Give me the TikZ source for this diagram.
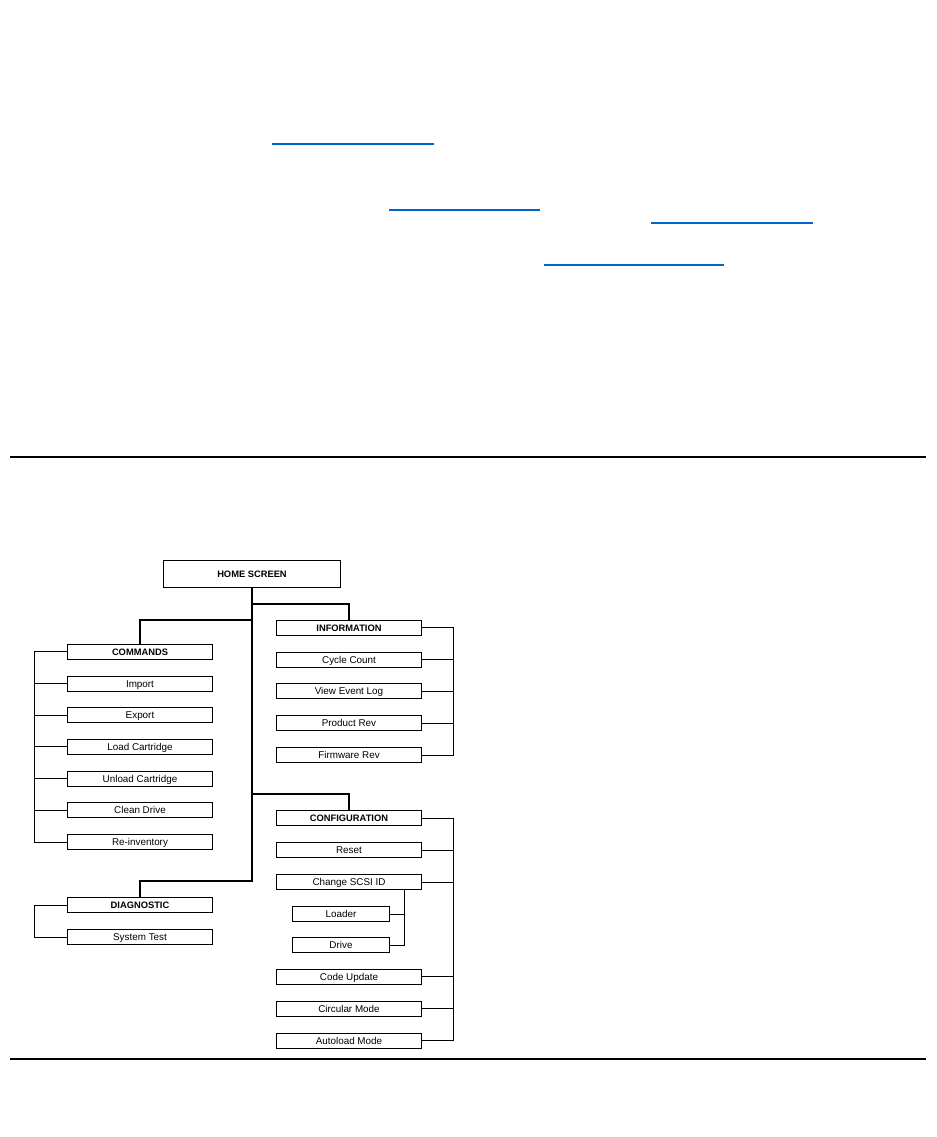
\documentclass[tikz,border=0pt]{standalone}
\usepackage{fontspec}
\setmainfont{Liberation Sans}
\usepackage{tikz}
\usetikzlibrary{positioning}

\begin{document}
\begin{tikzpicture}[x=0.75pt, y=-0.75pt,
    box/.style={draw, line width=0.6pt, minimum width=109pt, minimum height=11.4pt,
        inner sep=0pt, text height=5.6pt, text depth=0pt, font=\fontsize{7.4}{8}\selectfont},
    headbox/.style={box, font=\fontsize{7}{8}\selectfont\bfseries},
    subbox/.style={box, minimum width=72.5pt},
    trunk/.style={line width=2.2pt},
    tick/.style={line width=0.7pt},
    link/.style={draw=linkblue, line width=1pt},
    rule/.style={line width=1.6pt}]
    \definecolor{linkblue}{RGB}{0,102,204}
    \useasboundingbox (0,0) rectangle (936,1137);

    % hyperlinks of the text above
    \draw[link] (272,144) -- (434,144);
    \draw[link] (389,210) -- (540,210);
    \draw[link] (651,223) -- (813,223);
    \draw[link] (544,265) -- (724,265);

    % rules
    \draw[rule] (10,457) -- (926,457);
    \draw[rule] (10,1059) -- (926,1059);

    % home screen
    \node[headbox, minimum width=133pt, minimum height=20.5pt] (home) at (252,574) {HOME SCREEN};

    % commands
    \node[headbox] (cmd) at (140,651.5) {COMMANDS};
    \node[box] (imp) at (140,683.5) {Import};
    \node[box] (exp) at (140,715) {Export};
    \node[box] (load) at (140,746.5) {Load Cartridge};
    \node[box] (unload) at (140,778.5) {Unload Cartridge};
    \node[box] (clean) at (140,810) {Clean Drive};
    \node[box] (reinv) at (140,842) {Re-inventory};

    % diagnostic
    \node[headbox] (diag) at (140,905) {DIAGNOSTIC};
    \node[box] (systest) at (140,937) {System Test};

    % information
    \node[headbox] (info) at (349,627.5) {INFORMATION};
    \node[box] (cycle) at (349,659.5) {Cycle Count};
    \node[box] (events) at (349,691) {View Event Log};
    \node[box] (prodrev) at (349,723) {Product Rev};
    \node[box] (fwrev) at (349,755) {Firmware Rev};

    % configuration
    \node[headbox] (conf) at (349,818) {CONFIGURATION};
    \node[box] (reset) at (349,850) {Reset};
    \node[box] (scsi) at (349,882) {Change SCSI ID};
    \node[subbox] (loader) at (341,914) {Loader};
    \node[subbox] (drive) at (341,945) {Drive};
    \node[box] (code) at (349,976.5) {Code Update};
    \node[box] (circ) at (349,1008.5) {Circular Mode};
    \node[box] (autold) at (349,1040.5) {Autoload Mode};

    % trunk
    \coordinate (tinfo) at (252,604);
    \coordinate (tcmd) at (252,620);
    \coordinate (tconf) at (252,794);
    \coordinate (tdiag) at (252,881);
    \draw[trunk] (home.south) -- (tdiag) -| (diag.north);
    \draw[trunk] (tinfo) -| (info.north);
    \draw[trunk] (tcmd) -| (cmd.north);
    \draw[trunk] (tconf) -| (conf.north);

    % brackets
    \draw[tick] (cmd.west) -- ++(-32,0) |- (reinv.west);
    \foreach \n in {imp, exp, load, unload, clean}
        \draw[tick] (\n.west) -- ++(-32,0);
    \draw[tick] (diag.west) -- ++(-32,0) |- (systest.west);
    \draw[tick] (info.east) -- ++(31,0) |- (fwrev.east);
    \foreach \n in {cycle, events, prodrev}
        \draw[tick] (\n.east) -- ++(31,0);
    \draw[tick] (conf.east) -- ++(31,0) |- (autold.east);
    \foreach \n in {reset, scsi, code, circ}
        \draw[tick] (\n.east) -- ++(31,0);
    \coordinate (tsub) at (404,890);
    \draw[tick] (tsub) |- (drive.east);
    \draw[tick] (loader.east) -- ++(15,0);
\end{tikzpicture}
\end{document}
